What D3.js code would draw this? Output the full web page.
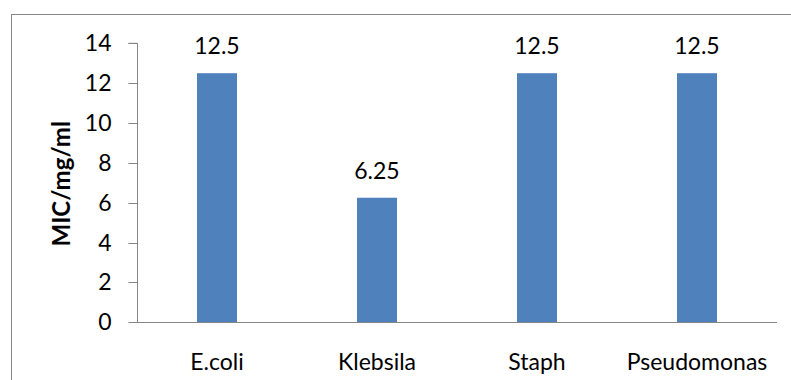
<!DOCTYPE html>
<html>
<head>
<meta charset="utf-8">
<script src="https://cdn.jsdelivr.net/npm/d3@7"></script>
<style>
  html, body { margin: 0; padding: 0; background: #fff; overflow: hidden; }
  svg { display: block; }
  text { font-family: "Lato", "Open Sans", sans-serif; fill: #000; }
</style>
</head>
<body>
<svg id="chart" width="791" height="380"></svg>
<script>
// MIC values per organism
const organisms = ["E.coli", "Klebsila", "Staph", "Pseudomonas"];
const micValues = [12.5, 6.25, 12.5, 12.5];
const yTicks = [0, 2, 4, 6, 8, 10, 12, 14];
const yTitle = "MIC/mg/ml";

const W = 791, H = 380;
const plot = { left: 137, right: 777, top: 43.3, bottom: 322.3 };
const axisColor = "#868686";
const barColor = "#4F81BD";
const fontSize = 23;

const svg = d3.select("#chart");

// outer chart-area border (extends past the visible edges)
svg.append("rect")
  .attr("x", 11.5).attr("y", 14.5)
  .attr("width", W + 20).attr("height", H + 20)
  .attr("fill", "#fff")
  .attr("stroke", axisColor)
  .attr("stroke-width", 1);

const x = d3.scaleBand()
  .domain(organisms)
  .range([plot.left, plot.right])
  .paddingInner(0.75)
  .paddingOuter(0.375);

const y = d3.scaleLinear()
  .domain([0, 14])
  .range([plot.bottom, plot.top]);

const data = organisms.map((name, i) => ({ name, value: micValues[i] }));

// bars
svg.append("g")
  .selectAll("rect")
  .data(data)
  .join("rect")
  .attr("x", d => x(d.name))
  .attr("y", d => y(d.value))
  .attr("width", x.bandwidth())
  .attr("height", d => y(0) - y(d.value))
  .attr("fill", barColor);

// value labels
svg.append("g")
  .selectAll("text")
  .data(data)
  .join("text")
  .attr("x", d => x(d.name) + x.bandwidth() / 2)
  .attr("y", d => y(d.value) - 19)
  .attr("text-anchor", "middle")
  .style("font-size", fontSize + "px")
  .text(d => String(d.value));

// y axis
const yAxis = svg.append("g")
  .attr("transform", `translate(${plot.left + 0.5},0)`)
  .call(d3.axisLeft(y).tickValues(yTicks).tickSize(9).tickPadding(17).tickFormat(d3.format("d")));
yAxis.select(".domain").attr("stroke", axisColor).attr("d", `M-9,${plot.top}H0V${plot.bottom}`);
yAxis.selectAll(".tick line").attr("stroke", axisColor);
yAxis.selectAll(".tick text").style("font-size", fontSize + "px").attr("fill", "#000");
yAxis.selectAll(".tick").attr("transform", d => `translate(0,${Math.round(y(d)) + 0.5})`);

// x axis (baseline only, no tick marks)
const xAxis = svg.append("g")
  .attr("transform", `translate(0,${Math.round(plot.bottom) + 0.5})`)
  .call(d3.axisBottom(x).tickSize(0).tickPadding(31));
xAxis.select(".domain").attr("stroke", axisColor).attr("d", `M${plot.left},0H${plot.right}`);
xAxis.selectAll(".tick text").style("font-size", fontSize + "px").attr("fill", "#000");

// y axis title
svg.append("text")
  .attr("transform", `translate(70,${(plot.top + plot.bottom) / 2 + 1}) rotate(-90)`)
  .attr("text-anchor", "middle")
  .style("font-size", "24px")
  .style("font-weight", "bold")
  .text(yTitle);
</script>
</body>
</html>
